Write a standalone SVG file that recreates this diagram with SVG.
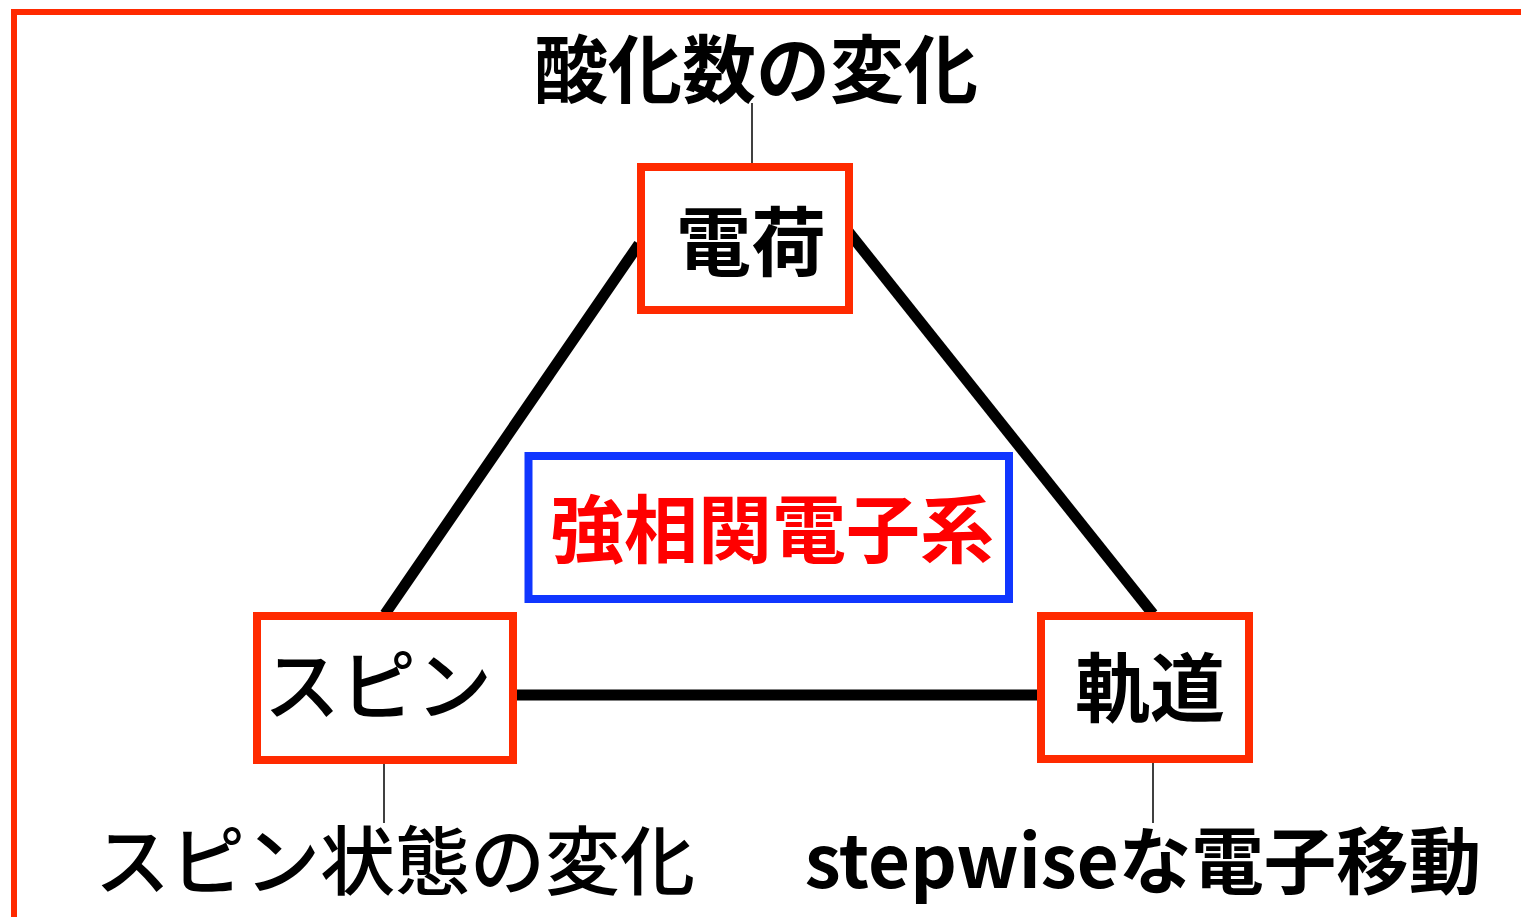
<svg xmlns="http://www.w3.org/2000/svg" width="1521" height="917" viewBox="0 0 1521 917">
<style>
.frame{fill:none;stroke:#ff2a00;stroke-width:6}
.box{fill:#fff;stroke:#ff2a00;stroke-width:8}
.core{fill:#fff;stroke:#1036ff;stroke-width:8}
.edge{stroke:#000;stroke-width:11;fill:none}
.tick{stroke:#000;stroke-width:1.5;fill:none}
.t{font-family:"Noto Sans CJK JP","Noto Sans",sans-serif;text-anchor:middle;fill:#000}
.b{font-weight:700}
.m{font-weight:500}
.red{fill:#ff0000}
</style>
<rect class="frame" x="14" y="12" width="1530" height="908"/>
<g id="connectors">
<line class="edge" x1="639" y1="244" x2="385" y2="614"/>
<line class="edge" x1="847" y1="230" x2="1153" y2="614"/>
<line class="edge" x1="513" y1="695" x2="1041" y2="695"/>
<line class="tick" x1="752" y1="103" x2="752" y2="164"/>
<line class="tick" x1="384" y1="762" x2="384" y2="823"/>
<line class="tick" x1="1153" y1="762" x2="1153" y2="823"/>
</g>
<g id="charge">
<rect class="box" x="641" y="167" width="208" height="143"/>
<text class="t b" x="751" y="270" font-size="75">電荷</text>
</g>
<g id="spin">
<rect class="box" x="257" y="616" width="256" height="144"/>
<text class="t m" x="378" y="714" font-size="76">スピン</text>
</g>
<g id="orbital">
<rect class="box" x="1041" y="616" width="208" height="143"/>
<text class="t b" x="1150" y="716" font-size="75">軌道</text>
</g>
<g id="core">
<rect class="core" x="528.5" y="456" width="480.5" height="143"/>
<text class="t b red" x="772" y="557" font-size="74">強相関電子系</text>
</g>
<g id="label-charge">
<text class="t b" x="756" y="97" font-size="74">酸化数の変化</text>
</g>
<g id="label-spin">
<text class="t m" x="395" y="889" font-size="75">スピン状態の変化</text>
</g>
<g id="label-orbital">
<text class="t b" x="1143" y="888" font-size="72.5">stepwiseな電子移動</text>
</g>
</svg>
